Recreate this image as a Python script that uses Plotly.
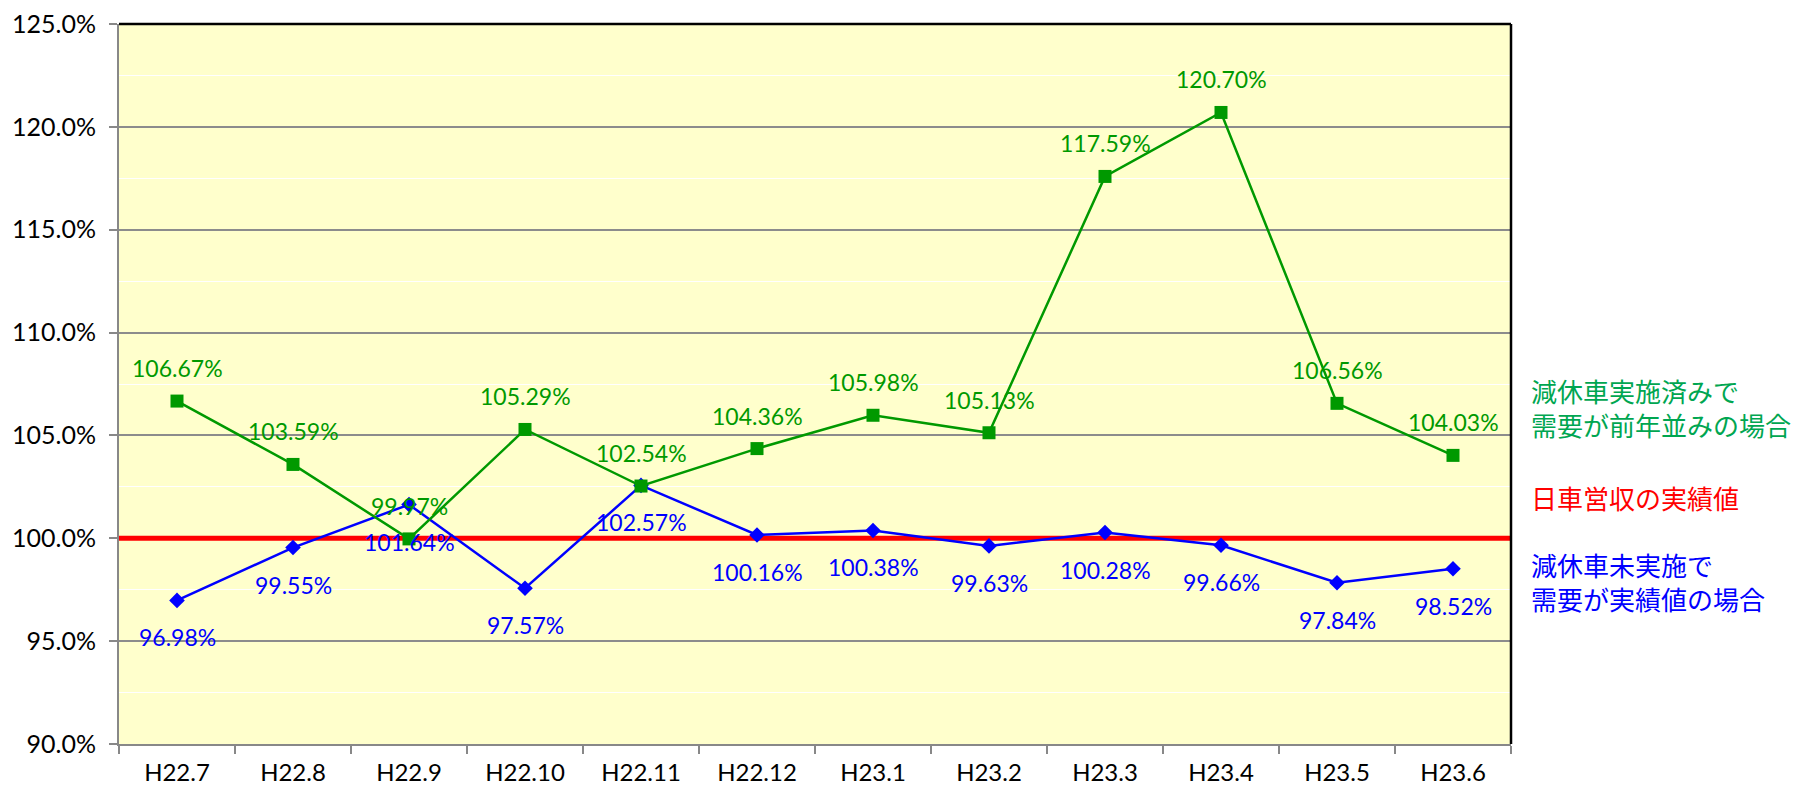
import plotly.graph_objects as go

# Monthly ratios (%), H22.7 – H23.6
months = ["H22.7", "H22.8", "H22.9", "H22.10", "H22.11", "H22.12",
          "H23.1", "H23.2", "H23.3", "H23.4", "H23.5", "H23.6"]
with_cut_prev_demand = [106.67, 103.59, 99.97, 105.29, 102.54, 104.36,
                        105.98, 105.13, 117.59, 120.70, 106.56, 104.03]
no_cut_actual_demand = [96.98, 99.55, 101.64, 97.57, 102.57, 100.16,
                        100.38, 99.63, 100.28, 99.66, 97.84, 98.52]
actual_level = 100.0

series_names = ["減休車実施済みで<br>需要が前年並みの場合",
                "日車営収の実績値",
                "減休車未実施で<br>需要が実績値の場合"]

GREEN = "#009900"
BLUE = "#0000FF"
RED = "#FF0000"
LABEL_FONT = "Lato, 'Open Sans', sans-serif"
JP_FONT = "'Noto Sans CJK JP', sans-serif"

x = list(range(len(months)))

fig = go.Figure()

# Reference line for actual revenue (spans the whole plot width)
fig.add_trace(go.Scatter(
    x=[-0.5, len(months) - 0.5], y=[actual_level, actual_level],
    mode="lines", line=dict(color=RED, width=5), hoverinfo="skip",
    name=series_names[1]))

fig.add_trace(go.Scatter(
    x=x, y=no_cut_actual_demand, mode="lines+markers",
    line=dict(color=BLUE, width=2.5),
    marker=dict(symbol="diamond", size=12, color=BLUE),
    name=series_names[2]))

fig.add_trace(go.Scatter(
    x=x, y=with_cut_prev_demand, mode="lines+markers",
    line=dict(color=GREEN, width=2.5),
    marker=dict(symbol="square", size=13, color=GREEN),
    name=series_names[0]))

annotations = []
for i, v in enumerate(with_cut_prev_demand):
    annotations.append(dict(x=i, y=v, xref="x", yref="y", text=f"{v:.2f}%",
                            showarrow=False, yshift=33,
                            font=dict(family=LABEL_FONT, size=23, color=GREEN)))
for i, v in enumerate(no_cut_actual_demand):
    annotations.append(dict(x=i, y=v, xref="x", yref="y", text=f"{v:.2f}%",
                            showarrow=False, yshift=-37,
                            font=dict(family=LABEL_FONT, size=23, color=BLUE)))

# Side legend texts
legend_items = [(series_names[0], "#00A651", 0.468),
                (series_names[1], RED, 0.342),
                (series_names[2], BLUE, 0.226)]
for text, color, ypos in legend_items:
    annotations.append(dict(x=1.013, y=ypos, xref="paper", yref="paper",
                            text=text, showarrow=False, xanchor="left",
                            yanchor="middle", align="left",
                            font=dict(family=JP_FONT, size=26, color=color)))

fig.update_layout(
    width=1796, height=789,
    margin=dict(l=119, r=285, t=24, b=45),
    paper_bgcolor="white",
    plot_bgcolor="#FFFFCC",
    showlegend=False,
    annotations=annotations,
    shapes=[
        dict(type="line", xref="paper", yref="paper", x0=0, x1=1, y0=1, y1=1,
             line=dict(color="black", width=2.5)),
        dict(type="line", xref="paper", yref="paper", x0=1, x1=1, y0=0, y1=1,
             line=dict(color="black", width=2.5)),
    ],
    xaxis=dict(
        range=[-0.5, len(months) - 0.5],
        automargin=False,
        tickmode="array", tickvals=x, ticktext=months,
        ticks="outside", ticklen=6, tickcolor="rgba(0,0,0,0)",
        showgrid=False, zeroline=False,
        showline=True, linecolor="#888888", linewidth=2,
        tickfont=dict(family=LABEL_FONT, size=24, color="black"),
        minor=dict(tickmode="array",
                   tickvals=[i - 0.5 for i in range(len(months) + 1)],
                   ticks="outside", ticklen=8, tickcolor="#888888",
                   tickwidth=2, showgrid=False),
    ),
    yaxis=dict(
        range=[90, 125], tickmode="linear", tick0=90, dtick=5,
        automargin=False,
        tickformat=".1f", ticksuffix="%",
        ticks="outside", ticklen=8, tickcolor="#888888", tickwidth=2,
        ticklabelstandoff=8,
        showgrid=True, gridcolor="#8C8C8C", gridwidth=2,
        zeroline=False,
        showline=True, linecolor="#888888", linewidth=2,
        tickfont=dict(family=LABEL_FONT, size=25, color="black"),
        minor=dict(dtick=2.5, showgrid=True, gridcolor="white", gridwidth=1),
    ),
)

fig.write_html("out.html")
